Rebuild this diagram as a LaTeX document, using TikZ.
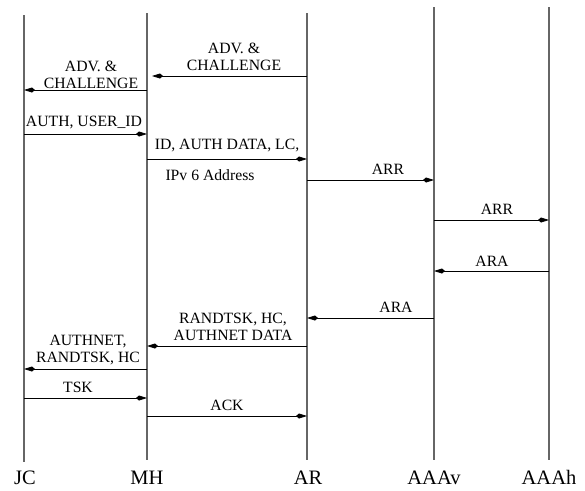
\documentclass[tikz,border=0pt]{standalone}
\usepackage{fontspec}
\setmainfont{Liberation Serif}
\usetikzlibrary{arrows.meta, positioning}

\begin{document}
\begin{tikzpicture}[x=1pt, y=-1pt,
  lifeline/.style={draw=black!60, line width=1.3pt},
  entity/.style={font=\fontsize{20.5}{22}\selectfont, inner sep=0pt, anchor=base},
  msg/.style={draw, line width=0.8pt, -{Kite[length=11pt, width=5pt, inset=3pt]}},
  msglabel/.style={font=\fontsize{15.7}{17}\selectfont, inner sep=0pt, align=center}]
  \useasboundingbox (0,0) rectangle (585,490);

  \node[entity] (jc) at (25,484) {JC};
  \node[entity] (mh) at (147,484) {MH};
  \node[entity] (ar) at (308,484) {AR};
  \node[entity] (aaav) at (434,484) {AAAv};
  \node[entity] (aaah) at (549,484) {AAAh};

  \coordinate (jctop) at (24,15);   \coordinate (jcbot) at (24,462);
  \coordinate (mhtop) at (147,13);  \coordinate (mhbot) at (147,460);
  \coordinate (artop) at (307,13);  \coordinate (arbot) at (307,460);
  \coordinate (aaavtop) at (434,7); \coordinate (aaavbot) at (434,460);
  \coordinate (aaahtop) at (549,7); \coordinate (aaahbot) at (549,460);

  \draw[lifeline] (jctop) -- (jcbot);
  \draw[lifeline] (mhtop) -- (mhbot);
  \draw[lifeline] (artop) -- (arbot);
  \draw[lifeline] (aaavtop) -- (aaavbot);
  \draw[lifeline] (aaahtop) -- (aaahbot);

  \coordinate (m1) at (0,76);   \coordinate (m2) at (0,90);
  \coordinate (m3) at (0,134);  \coordinate (m4) at (0,159);
  \coordinate (m5) at (0,180);  \coordinate (m6) at (0,220);
  \coordinate (m7) at (0,271);  \coordinate (m8) at (0,318);
  \coordinate (m9) at (0,346);  \coordinate (m10) at (0,369);
  \coordinate (m11) at (0,398); \coordinate (m12) at (0,416);

  \draw[msg] (artop |- m1) -- ([xshift=5pt]mhtop |- m1);
  \draw[msg] (mhtop |- m2) -- (jctop |- m2);
  \draw[msg] (jctop |- m3) -- (mhtop |- m3);
  \draw[msg] (mhtop |- m4) -- (artop |- m4);
  \draw[msg] (artop |- m5) -- (aaavtop |- m5);
  \draw[msg] (aaavtop |- m6) -- (aaahtop |- m6);
  \draw[msg] (aaahtop |- m7) -- (aaavtop |- m7);
  \draw[msg] (aaavtop |- m8) -- (artop |- m8);
  \draw[msg] (artop |- m9) -- (mhtop |- m9);
  \draw[msg] (mhtop |- m10) -- (jctop |- m10);
  \draw[msg] (jctop |- m11) -- (mhtop |- m11);
  \draw[msg] (mhtop |- m12) -- (artop |- m12);

  \node[msglabel] (l1) at (234,56.5) {ADV. \&\\CHALLENGE};
  \node[msglabel] (l2) at (91,74.5) {ADV. \&\\CHALLENGE};
  \node[msglabel] (l3) at (84,123) {AUTH, USER\_ID};
  \node[msglabel] (l4) at (227,146) {ID, AUTH DATA, LC,};
  \node[msglabel] (l4b) at (210,175) {IPv 6 Address};
  \node[msglabel] (l5) at (388,169) {ARR};
  \node[msglabel] (l6) at (497,209) {ARR};
  \node[msglabel] (l7) at (492,261) {ARA};
  \node[msglabel] (l8) at (396,307) {ARA};
  \node[msglabel] (l9) at (233,326.5) {RANDTSK, HC,\\AUTHNET DATA};
  \node[msglabel] (l10) at (88,350) {AUTHNET,\\RANDTSK, HC};
  \node[msglabel] (l11) at (78,387) {TSK};
  \node[msglabel] (l12) at (227,405) {ACK};
\end{tikzpicture}
\end{document}
